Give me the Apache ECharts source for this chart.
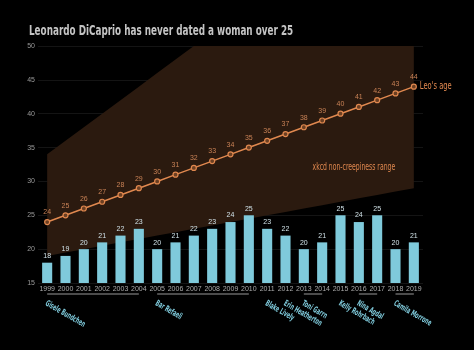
<!DOCTYPE html>
<html>
<head>
<meta charset="utf-8">
<script src="https://cdn.jsdelivr.net/npm/echarts@6/dist/echarts.min.js"></script>
<style>
  html, body { margin: 0; padding: 0; background: #000; }
  #chart { width: 474px; height: 350px; }
</style>
</head>
<body>
<div id="chart"></div>
<script>
// data
const years = ['1999','2000','2001','2002','2003','2004','2005','2006','2007','2008','2009',
  '2010','2011','2012','2013','2014','2015','2016','2017','2018','2019'];
const leoAge = [24,25,26,27,28,29,30,31,32,33,34,35,36,37,38,39,40,41,42,43,44];
const gfAge = [18,19,20,21,22,23,20,21,22,23,24,25,23,22,20,21,25,24,25,20,21];
// xkcd range bounds (age/2+7 .. 2*(age-7))
const rangeLow = [19,19.5,20,20.5,21,21.5,22,22.5,23,23.5,24,24.5,25,25.5,26,26.5,27,27.5,28,28.5,29];
const rangeHigh = [34,36,38,40,42,44,46,48,50,52,54,56,58,60,62,64,66,68,70,72,74];
// girlfriends: first year, last year
const gfNames = ['Gisele Bundchen','Bar Refaeli','Blake Lively','Erin Heatherton','Toni Garrn','Kelly Rohrbach','Nina Agdal','Camila Morrone'];
const gfStart = ['1999','2005','2011','2012','2013','2015','2016','2018'];
const gfEnd   = ['2004','2010','2011','2012','2014','2015','2017','2019'];

const titleText = 'Leonardo DiCaprio has never dated a woman over 25';
const leoLabel = "Leo's age";
const rangeLabel = 'xkcd non-creepiness range';

const narrow = '"DejaVu Sans Condensed", "DejaVu Sans", sans-serif';
const orange = '#e0884f';
const blue = '#7fcadb';

const chart = echarts.init(document.getElementById('chart'));

const bandDiff = rangeHigh.map((v, i) => v - rangeLow[i]);
const gfData = gfNames.map((n, i) => ({
  name: n,
  value: [years.indexOf(gfStart[i]), 15, years.indexOf(gfEnd[i])]
}));

const option = {
  backgroundColor: '#000',
  animation: false,
  graphic: [{
    type: 'text', x: 29, y: 24, scaleX: 0.7,
    style: { text: titleText, fill: '#c4c4c4', font: 'bold 14px ' + narrow }
  }],
  grid: { left: 38, right: 51, top: 46, bottom: 67 },
  xAxis: {
    type: 'category',
    data: years,
    axisLine: { show: false },
    axisTick: { show: false },
    axisLabel: { color: '#aaa', fontSize: 7, margin: 3, interval: 0 }
  },
  yAxis: {
    type: 'value',
    min: 15, max: 50, interval: 5,
    axisLabel: { color: '#999', fontSize: 7, margin: 3 },
    splitLine: { lineStyle: { color: 'rgba(255,255,255,0.08)', width: 1 } }
  },
  series: [
    {
      type: 'line', stack: 'band', data: rangeLow, z: 1,
      symbol: 'none', lineStyle: { width: 0 }, silent: true
    },
    {
      type: 'line', stack: 'band', data: bandDiff, z: 1,
      symbol: 'none', lineStyle: { width: 0 }, silent: true,
      areaStyle: { color: '#2b1a0f', opacity: 1 }
    },
    {
      type: 'bar', data: gfAge, barWidth: '55%', z: 2,
      itemStyle: { color: blue },
      label: { show: true, position: 'top', color: '#cfe0e6', fontSize: 7, distance: 3 }
    },
    {
      type: 'line', data: leoAge, z: 3,
      symbol: 'circle', symbolSize: 5,
      lineStyle: { color: orange, width: 1.5 },
      itemStyle: { color: '#6b3f22', borderColor: orange, borderWidth: 1.2 },
      label: { show: true, position: 'top', color: '#c98256', fontSize: 7, distance: 3 }
    },
    {
      // girlfriend names under the year axis
      type: 'custom',
      data: gfData,
      encode: { x: 0, y: 1 },
      clip: false, silent: true, z: 4,
      renderItem: function (params, api) {
        const s = api.coord([api.value(0), 15]);
        const e = api.coord([api.value(2), 15]);
        const children = [];
        if (e[0] - s[0] > 1) {
          children.push({
            type: 'line',
            shape: { x1: s[0], y1: s[1] + 11, x2: e[0], y2: e[1] + 11 },
            style: { stroke: '#666', lineWidth: 1.5 }
          });
        }
        children.push({
          type: 'text',
          x: s[0] + 1, y: s[1] + 16,
          rotation: -Math.PI / 6, scaleX: 0.62,
          style: {
            text: gfNames[params.dataIndex],
            fill: blue, font: 'bold 8.5px ' + narrow,
            align: 'left', verticalAlign: 'top'
          }
        });
        return { type: 'group', children: children };
      }
    },
    {
      // text notes placed on the chart's own scales
      type: 'custom',
      data: [
        { value: [years.length - 1, leoAge[leoAge.length - 1]], name: leoLabel },
        { value: [years.indexOf('2016'), 32], name: rangeLabel }
      ],
      encode: { x: 0, y: 1 },
      clip: false, silent: true, z: 4,
      renderItem: function (params, api) {
        const p = api.coord([api.value(0), api.value(1)]);
        const isLeo = params.dataIndex === 0;
        return {
          type: 'text',
          x: isLeo ? p[0] + 6 : p[0] - 5, y: p[1],
          scaleX: 0.68,
          style: {
            text: isLeo ? leoLabel : rangeLabel,
            fill: orange, font: (isLeo ? '11px ' : '10px ') + narrow,
            align: isLeo ? 'left' : 'center', verticalAlign: 'middle'
          }
        };
      }
    }
  ]
};

chart.setOption(option);
</script>
</body>
</html>
